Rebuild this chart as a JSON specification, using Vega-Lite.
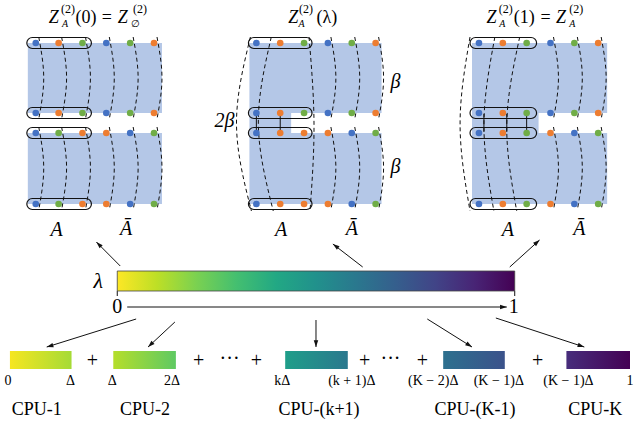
{
  "$schema": "https://vega.github.io/schema/vega-lite/v6.json",
  "width": 634,
  "height": 428,
  "autosize": {"type": "fit", "contains": "padding"},
  "padding": 0,
  "background": "white",
  "config": {"view": {"stroke": null}},
  "datasets": {
    "fills": [
      {"x": 28, "x2": 163, "y": 43, "y2": 113},
      {"x": 28, "x2": 163, "y": 133, "y2": 204},
      {"x": 251, "x2": 384, "y": 43, "y2": 113},
      {"x": 251, "x2": 384, "y": 133, "y2": 204},
      {"x": 251, "x2": 293, "y": 112, "y2": 134},
      {"x": 475, "x2": 611, "y": 43, "y2": 113},
      {"x": 475, "x2": 611, "y": 133, "y2": 204},
      {"x": 475, "x2": 542, "y": 112, "y2": 134}
    ],
    "pills": [
      {"x": 27, "x2": 92, "y": 37.5, "y2": 48.5},
      {"x": 27, "x2": 92, "y": 107.5, "y2": 118.5},
      {"x": 27, "x2": 92, "y": 127.5, "y2": 138.5},
      {"x": 27, "x2": 92, "y": 198.5, "y2": 209.5},
      {"x": 250, "x2": 314, "y": 37.5, "y2": 48.5},
      {"x": 250, "x2": 314, "y": 107.5, "y2": 118.5},
      {"x": 250, "x2": 314, "y": 127.5, "y2": 138.5},
      {"x": 250, "x2": 314, "y": 198.5, "y2": 209.5},
      {"x": 473, "x2": 540, "y": 37.5, "y2": 48.5},
      {"x": 473, "x2": 540, "y": 107.5, "y2": 118.5},
      {"x": 473, "x2": 540, "y": 127.5, "y2": 138.5},
      {"x": 473, "x2": 540, "y": 198.5, "y2": 209.5}
    ],
    "arcs": [
      {"id": "p1c1t", "o": 0, "x": 39, "y": 37}, {"id": "p1c1t", "o": 1, "x": 44, "y": 78}, {"id": "p1c1t", "o": 2, "x": 39, "y": 119},
      {"id": "p1c2t", "o": 0, "x": 62, "y": 37}, {"id": "p1c2t", "o": 1, "x": 67, "y": 78}, {"id": "p1c2t", "o": 2, "x": 62, "y": 119},
      {"id": "p1c3t", "o": 0, "x": 86, "y": 37}, {"id": "p1c3t", "o": 1, "x": 91, "y": 78}, {"id": "p1c3t", "o": 2, "x": 86, "y": 119},
      {"id": "p1c4t", "o": 0, "x": 110, "y": 37}, {"id": "p1c4t", "o": 1, "x": 115, "y": 78}, {"id": "p1c4t", "o": 2, "x": 110, "y": 119},
      {"id": "p1c5t", "o": 0, "x": 134, "y": 37}, {"id": "p1c5t", "o": 1, "x": 139, "y": 78}, {"id": "p1c5t", "o": 2, "x": 134, "y": 119},
      {"id": "p1c6t", "o": 0, "x": 158, "y": 37}, {"id": "p1c6t", "o": 1, "x": 163, "y": 78}, {"id": "p1c6t", "o": 2, "x": 158, "y": 119},
      {"id": "p1c1b", "o": 0, "x": 39, "y": 127}, {"id": "p1c1b", "o": 1, "x": 44, "y": 168}, {"id": "p1c1b", "o": 2, "x": 39, "y": 210},
      {"id": "p1c2b", "o": 0, "x": 62, "y": 127}, {"id": "p1c2b", "o": 1, "x": 67, "y": 168}, {"id": "p1c2b", "o": 2, "x": 62, "y": 210},
      {"id": "p1c3b", "o": 0, "x": 86, "y": 127}, {"id": "p1c3b", "o": 1, "x": 91, "y": 168}, {"id": "p1c3b", "o": 2, "x": 86, "y": 210},
      {"id": "p1c4b", "o": 0, "x": 110, "y": 127}, {"id": "p1c4b", "o": 1, "x": 115, "y": 168}, {"id": "p1c4b", "o": 2, "x": 110, "y": 210},
      {"id": "p1c5b", "o": 0, "x": 134, "y": 127}, {"id": "p1c5b", "o": 1, "x": 139, "y": 168}, {"id": "p1c5b", "o": 2, "x": 134, "y": 210},
      {"id": "p1c6b", "o": 0, "x": 158, "y": 127}, {"id": "p1c6b", "o": 1, "x": 163, "y": 168}, {"id": "p1c6b", "o": 2, "x": 158, "y": 210},
      {"id": "p2a1", "o": 0, "x": 252, "y": 37}, {"id": "p2a1", "o": 1, "x": 238, "y": 124}, {"id": "p2a1", "o": 2, "x": 253, "y": 211},
      {"id": "p2a2", "o": 0, "x": 273, "y": 37}, {"id": "p2a2", "o": 1, "x": 260, "y": 124}, {"id": "p2a2", "o": 2, "x": 275, "y": 211},
      {"id": "p2a3", "o": 0, "x": 311, "y": 37}, {"id": "p2a3", "o": 1, "x": 316, "y": 124}, {"id": "p2a3", "o": 2, "x": 312, "y": 211},
      {"id": "p2c4t", "o": 0, "x": 333, "y": 37}, {"id": "p2c4t", "o": 1, "x": 338, "y": 78}, {"id": "p2c4t", "o": 2, "x": 333, "y": 119},
      {"id": "p2c5t", "o": 0, "x": 357, "y": 37}, {"id": "p2c5t", "o": 1, "x": 362, "y": 78}, {"id": "p2c5t", "o": 2, "x": 357, "y": 119},
      {"id": "p2c6t", "o": 0, "x": 381, "y": 37}, {"id": "p2c6t", "o": 1, "x": 386, "y": 78}, {"id": "p2c6t", "o": 2, "x": 381, "y": 119},
      {"id": "p2c4b", "o": 0, "x": 333, "y": 127}, {"id": "p2c4b", "o": 1, "x": 338, "y": 168}, {"id": "p2c4b", "o": 2, "x": 333, "y": 210},
      {"id": "p2c5b", "o": 0, "x": 357, "y": 127}, {"id": "p2c5b", "o": 1, "x": 362, "y": 168}, {"id": "p2c5b", "o": 2, "x": 357, "y": 210},
      {"id": "p2c6b", "o": 0, "x": 381, "y": 127}, {"id": "p2c6b", "o": 1, "x": 386, "y": 168}, {"id": "p2c6b", "o": 2, "x": 381, "y": 210},
      {"id": "p3a1", "o": 0, "x": 473, "y": 37}, {"id": "p3a1", "o": 1, "x": 463, "y": 124}, {"id": "p3a1", "o": 2, "x": 473, "y": 211},
      {"id": "p3a2", "o": 0, "x": 498, "y": 37}, {"id": "p3a2", "o": 1, "x": 487, "y": 124}, {"id": "p3a2", "o": 2, "x": 497, "y": 211},
      {"id": "p3a3", "o": 0, "x": 523, "y": 37}, {"id": "p3a3", "o": 1, "x": 510, "y": 124}, {"id": "p3a3", "o": 2, "x": 520, "y": 211},
      {"id": "p3c4t", "o": 0, "x": 557, "y": 37}, {"id": "p3c4t", "o": 1, "x": 562, "y": 78}, {"id": "p3c4t", "o": 2, "x": 557, "y": 119},
      {"id": "p3c5t", "o": 0, "x": 581, "y": 37}, {"id": "p3c5t", "o": 1, "x": 586, "y": 78}, {"id": "p3c5t", "o": 2, "x": 581, "y": 119},
      {"id": "p3c6t", "o": 0, "x": 605, "y": 37}, {"id": "p3c6t", "o": 1, "x": 610, "y": 78}, {"id": "p3c6t", "o": 2, "x": 605, "y": 119},
      {"id": "p3c4b", "o": 0, "x": 557, "y": 127}, {"id": "p3c4b", "o": 1, "x": 562, "y": 168}, {"id": "p3c4b", "o": 2, "x": 557, "y": 210},
      {"id": "p3c5b", "o": 0, "x": 581, "y": 127}, {"id": "p3c5b", "o": 1, "x": 586, "y": 168}, {"id": "p3c5b", "o": 2, "x": 581, "y": 210},
      {"id": "p3c6b", "o": 0, "x": 605, "y": 127}, {"id": "p3c6b", "o": 1, "x": 610, "y": 168}, {"id": "p3c6b", "o": 2, "x": 605, "y": 210}
    ],
    "segs": [
      {"x": 258, "y": 114, "x2": 258, "y2": 132},
      {"x": 282, "y": 114, "x2": 282, "y2": 132},
      {"x": 487, "y": 114, "x2": 487, "y2": 132},
      {"x": 510, "y": 114, "x2": 510, "y2": 132},
      {"x": 530, "y": 114, "x2": 530, "y2": 132},
      {"x": 118, "y": 291, "x2": 118, "y2": 296},
      {"x": 518, "y": 291, "x2": 518, "y2": 296},
      {"x": 121, "y": 266, "x2": 97, "y2": 242},
      {"x": 365, "y": 267, "x2": 335, "y2": 244},
      {"x": 513, "y": 267, "x2": 543, "y2": 240},
      {"x": 128, "y": 307, "x2": 510, "y2": 307},
      {"x": 137, "y": 319, "x2": 47, "y2": 347},
      {"x": 176, "y": 322, "x2": 149, "y2": 347},
      {"x": 318, "y": 320, "x2": 318, "y2": 347},
      {"x": 430, "y": 319, "x2": 475, "y2": 347},
      {"x": 499, "y": 318, "x2": 588, "y2": 347}
    ],
    "tips": [
      {"x": 97, "y": 242, "dir": 315},
      {"x": 335, "y": 244, "dir": 307},
      {"x": 543, "y": 240, "dir": 48},
      {"x": 510, "y": 307, "dir": 90},
      {"x": 47, "y": 347, "dir": 253},
      {"x": 149, "y": 347, "dir": 227},
      {"x": 318, "y": 347, "dir": 180},
      {"x": 475, "y": 347, "dir": 122},
      {"x": 588, "y": 347, "dir": 108}
    ],
    "dots": [
      {"x": 36, "y": 43, "c": "b"}, {"x": 59, "y": 43, "c": "o"}, {"x": 83, "y": 43, "c": "g"}, {"x": 107, "y": 43, "c": "b"}, {"x": 131, "y": 43, "c": "g"}, {"x": 155, "y": 43, "c": "o"},
      {"x": 36, "y": 113, "c": "b"}, {"x": 59, "y": 113, "c": "o"}, {"x": 83, "y": 113, "c": "g"}, {"x": 107, "y": 113, "c": "b"}, {"x": 131, "y": 113, "c": "g"}, {"x": 155, "y": 113, "c": "o"},
      {"x": 36, "y": 133, "c": "b"}, {"x": 59, "y": 133, "c": "g"}, {"x": 83, "y": 133, "c": "o"}, {"x": 107, "y": 133, "c": "o"}, {"x": 131, "y": 133, "c": "b"}, {"x": 155, "y": 133, "c": "g"},
      {"x": 36, "y": 204, "c": "b"}, {"x": 59, "y": 204, "c": "g"}, {"x": 83, "y": 204, "c": "o"}, {"x": 107, "y": 204, "c": "o"}, {"x": 131, "y": 204, "c": "b"}, {"x": 155, "y": 204, "c": "g"},
      {"x": 258, "y": 43, "c": "b"}, {"x": 282, "y": 43, "c": "o"}, {"x": 306, "y": 43, "c": "g"}, {"x": 330, "y": 43, "c": "b"}, {"x": 354, "y": 43, "c": "g"}, {"x": 378, "y": 43, "c": "o"},
      {"x": 258, "y": 113, "c": "b"}, {"x": 282, "y": 113, "c": "o"}, {"x": 306, "y": 113, "c": "g"}, {"x": 330, "y": 113, "c": "b"}, {"x": 354, "y": 113, "c": "g"}, {"x": 378, "y": 113, "c": "o"},
      {"x": 258, "y": 133, "c": "b"}, {"x": 282, "y": 133, "c": "o"}, {"x": 306, "y": 133, "c": "o"}, {"x": 330, "y": 133, "c": "o"}, {"x": 354, "y": 133, "c": "b"}, {"x": 378, "y": 133, "c": "g"},
      {"x": 258, "y": 204, "c": "b"}, {"x": 282, "y": 204, "c": "o"}, {"x": 306, "y": 204, "c": "o"}, {"x": 330, "y": 204, "c": "o"}, {"x": 354, "y": 204, "c": "b"}, {"x": 378, "y": 204, "c": "g"},
      {"x": 482, "y": 43, "c": "b"}, {"x": 506, "y": 43, "c": "o"}, {"x": 530, "y": 43, "c": "g"}, {"x": 554, "y": 43, "c": "b"}, {"x": 578, "y": 43, "c": "g"}, {"x": 602, "y": 43, "c": "o"},
      {"x": 482, "y": 113, "c": "b"}, {"x": 506, "y": 113, "c": "o"}, {"x": 530, "y": 113, "c": "g"}, {"x": 554, "y": 113, "c": "b"}, {"x": 578, "y": 113, "c": "g"}, {"x": 602, "y": 113, "c": "o"},
      {"x": 482, "y": 133, "c": "b"}, {"x": 506, "y": 133, "c": "o"}, {"x": 530, "y": 133, "c": "g"}, {"x": 554, "y": 133, "c": "o"}, {"x": 578, "y": 133, "c": "b"}, {"x": 602, "y": 133, "c": "g"},
      {"x": 482, "y": 204, "c": "b"}, {"x": 506, "y": 204, "c": "o"}, {"x": 530, "y": 204, "c": "g"}, {"x": 554, "y": 204, "c": "o"}, {"x": 578, "y": 204, "c": "b"}, {"x": 602, "y": 204, "c": "g"}
    ],
    "rom": [
      {"x": 68.5, "y": 9, "t": "(2)", "k": "sup"},
      {"x": 86.5, "y": 18, "t": "(0)", "k": "main"},
      {"x": 107.5, "y": 18, "t": "=", "k": "main"},
      {"x": 141, "y": 9, "t": "(2)", "k": "sup"},
      {"x": 136, "y": 24, "t": "∅", "k": "sub"},
      {"x": 308, "y": 9, "t": "(2)", "k": "sup"},
      {"x": 329, "y": 18, "t": "(λ)", "k": "main"},
      {"x": 509, "y": 9, "t": "(2)", "k": "sup"},
      {"x": 527.5, "y": 18, "t": "(1)", "k": "main"},
      {"x": 549, "y": 18, "t": "=", "k": "main"},
      {"x": 580, "y": 9, "t": "(2)", "k": "sup"},
      {"x": 118, "y": 307, "t": "0", "k": "big"},
      {"x": 517, "y": 307, "t": "1", "k": "big"},
      {"x": 8, "y": 381, "t": "0", "k": "tick"},
      {"x": 71, "y": 381, "t": "Δ", "k": "tick"},
      {"x": 113, "y": 381, "t": "Δ", "k": "tick"},
      {"x": 173, "y": 381, "t": "2Δ", "k": "tick"},
      {"x": 284, "y": 381, "t": "kΔ", "k": "tick"},
      {"x": 354, "y": 381, "t": "(k + 1)Δ", "k": "tick"},
      {"x": 436, "y": 381, "t": "(K − 2)Δ", "k": "tick"},
      {"x": 502, "y": 381, "t": "(K − 1)Δ", "k": "tick"},
      {"x": 572, "y": 381, "t": "(K − 1)Δ", "k": "tick"},
      {"x": 634, "y": 381, "t": "1", "k": "tick"},
      {"x": 93, "y": 361, "t": "+", "k": "big"},
      {"x": 200, "y": 361, "t": "+", "k": "big"},
      {"x": 231, "y": 359, "t": "···", "k": "big"},
      {"x": 258, "y": 361, "t": "+", "k": "big"},
      {"x": 367, "y": 361, "t": "+", "k": "big"},
      {"x": 393, "y": 359, "t": "···", "k": "big"},
      {"x": 425, "y": 361, "t": "+", "k": "big"},
      {"x": 541, "y": 361, "t": "+", "k": "big"},
      {"x": 37, "y": 410, "t": "CPU-1", "k": "main"},
      {"x": 146, "y": 410, "t": "CPU-2", "k": "main"},
      {"x": 321, "y": 410, "t": "CPU-(k+1)", "k": "main"},
      {"x": 478, "y": 410, "t": "CPU-(K-1)", "k": "main"},
      {"x": 599, "y": 410, "t": "CPU-K", "k": "main"}
    ],
    "ita": [
      {"x": 54, "y": 18, "t": "Z", "k": "main"},
      {"x": 65.5, "y": 24, "t": "A", "k": "sub"},
      {"x": 123.5, "y": 18, "t": "Z", "k": "main"},
      {"x": 295, "y": 18, "t": "Z", "k": "main"},
      {"x": 303.5, "y": 24, "t": "A", "k": "sub"},
      {"x": 494.5, "y": 18, "t": "Z", "k": "main"},
      {"x": 505.5, "y": 24, "t": "A", "k": "sub"},
      {"x": 564.5, "y": 18, "t": "Z", "k": "main"},
      {"x": 576, "y": 24, "t": "A", "k": "sub"},
      {"x": 57, "y": 230, "t": "A", "k": "lab"},
      {"x": 127, "y": 229, "t": "Ā", "k": "lab"},
      {"x": 283, "y": 230, "t": "A", "k": "lab"},
      {"x": 354, "y": 229, "t": "Ā", "k": "lab"},
      {"x": 511, "y": 230, "t": "A", "k": "lab"},
      {"x": 583, "y": 229, "t": "Ā", "k": "lab"},
      {"x": 398, "y": 82, "t": "β", "k": "lab"},
      {"x": 398, "y": 167, "t": "β", "k": "lab"},
      {"x": 226, "y": 121, "t": "2β", "k": "lab"},
      {"x": 99, "y": 281, "t": "λ", "k": "lam"}
    ]
  },
  "encoding": {
    "x": {"field": "x", "type": "quantitative", "scale": {"domain": [0, 634], "nice": false, "zero": false}, "axis": null},
    "y": {"field": "y", "type": "quantitative", "scale": {"domain": [0, 428], "nice": false, "zero": false, "reverse": true}, "axis": null}
  },
  "layer": [
    {
      "data": {"name": "fills"},
      "mark": {"type": "rect", "color": "#B4C7E7"},
      "encoding": {"x2": {"field": "x2"}, "y2": {"field": "y2"}}
    },
    {
      "data": {"name": "pills"},
      "mark": {"type": "rect", "fill": "white", "fillOpacity": 0, "stroke": "#111", "strokeWidth": 1.2, "cornerRadius": 5.5},
      "encoding": {"x2": {"field": "x2"}, "y2": {"field": "y2"}}
    },
    {
      "data": {"name": "arcs"},
      "mark": {"type": "line", "color": "#111", "strokeWidth": 1, "strokeDash": [4, 3], "interpolate": "natural"},
      "encoding": {"detail": {"field": "id"}, "order": {"field": "o"}}
    },
    {
      "data": {"name": "segs"},
      "mark": {"type": "rule", "color": "#111", "strokeWidth": 1},
      "encoding": {"x2": {"field": "x2"}, "y2": {"field": "y2"}}
    },
    {
      "data": {"name": "tips"},
      "mark": {"type": "point", "shape": "M0,0L-1,3L1,3Z", "filled": true, "color": "#111", "opacity": 1, "size": 20},
      "encoding": {"angle": {"field": "dir", "type": "quantitative", "scale": null}}
    },
    {
      "data": {"values": [{"x": 118, "x2": 518, "y": 271, "y2": 291}]},
      "mark": {"type": "rect", "stroke": "#444", "strokeWidth": 0.8, "fill": {"gradient": "linear", "x1": 0, "y1": 0, "x2": 1, "y2": 0, "stops": [
        {"offset": 0, "color": "#fde725"}, {"offset": 0.1, "color": "#bddf26"}, {"offset": 0.2, "color": "#7ad151"}, {"offset": 0.3, "color": "#44bf70"},
        {"offset": 0.4, "color": "#22a884"}, {"offset": 0.5, "color": "#21918c"}, {"offset": 0.6, "color": "#2a788e"}, {"offset": 0.7, "color": "#355f8d"},
        {"offset": 0.8, "color": "#414487"}, {"offset": 0.9, "color": "#482475"}, {"offset": 1, "color": "#440154"}]}},
      "encoding": {"x2": {"field": "x2"}, "y2": {"field": "y2"}}
    },
    {
      "data": {"values": [{"x": 10, "x2": 72, "y": 351, "y2": 369}]},
      "mark": {"type": "rect", "fill": {"gradient": "linear", "x1": 0, "y1": 0, "x2": 1, "y2": 0, "stops": [{"offset": 0, "color": "#f6e620"}, {"offset": 1, "color": "#a5db36"}]}},
      "encoding": {"x2": {"field": "x2"}, "y2": {"field": "y2"}}
    },
    {
      "data": {"values": [{"x": 114, "x2": 177, "y": 351, "y2": 369}]},
      "mark": {"type": "rect", "fill": {"gradient": "linear", "x1": 0, "y1": 0, "x2": 1, "y2": 0, "stops": [{"offset": 0, "color": "#b5de2b"}, {"offset": 1, "color": "#5ec962"}]}},
      "encoding": {"x2": {"field": "x2"}, "y2": {"field": "y2"}}
    },
    {
      "data": {"values": [{"x": 287, "x2": 350, "y": 351, "y2": 369}]},
      "mark": {"type": "rect", "fill": {"gradient": "linear", "x1": 0, "y1": 0, "x2": 1, "y2": 0, "stops": [{"offset": 0, "color": "#1f9e89"}, {"offset": 1, "color": "#2a788e"}]}},
      "encoding": {"x2": {"field": "x2"}, "y2": {"field": "y2"}}
    },
    {
      "data": {"values": [{"x": 446, "x2": 508, "y": 351, "y2": 369}]},
      "mark": {"type": "rect", "fill": {"gradient": "linear", "x1": 0, "y1": 0, "x2": 1, "y2": 0, "stops": [{"offset": 0, "color": "#2d708e"}, {"offset": 1, "color": "#3b528b"}]}},
      "encoding": {"x2": {"field": "x2"}, "y2": {"field": "y2"}}
    },
    {
      "data": {"values": [{"x": 570, "x2": 634, "y": 351, "y2": 369}]},
      "mark": {"type": "rect", "fill": {"gradient": "linear", "x1": 0, "y1": 0, "x2": 1, "y2": 0, "stops": [{"offset": 0, "color": "#472d7b"}, {"offset": 1, "color": "#440154"}]}},
      "encoding": {"x2": {"field": "x2"}, "y2": {"field": "y2"}}
    },
    {
      "data": {"name": "dots"},
      "mark": {"type": "point", "shape": "circle", "filled": true, "opacity": 1, "size": 44},
      "encoding": {
        "color": {"field": "c", "type": "nominal", "scale": {"domain": ["b", "o", "g"], "range": ["#4472C4", "#ED7D31", "#70AD47"]}, "legend": null}
      }
    },
    {
      "data": {"name": "rom"},
      "transform": [{"filter": "datum.k == 'main'"}],
      "mark": {"type": "text", "font": "Times New Roman, Liberation Serif, DejaVu Serif, serif", "fontSize": 18, "color": "#000", "align": "center", "baseline": "middle"},
      "encoding": {"text": {"field": "t"}}
    },
    {
      "data": {"name": "rom"},
      "transform": [{"filter": "datum.k == 'sup'"}],
      "mark": {"type": "text", "font": "Times New Roman, Liberation Serif, DejaVu Serif, serif", "fontSize": 12, "color": "#000", "align": "center", "baseline": "middle"},
      "encoding": {"text": {"field": "t"}}
    },
    {
      "data": {"name": "rom"},
      "transform": [{"filter": "datum.k == 'sub'"}],
      "mark": {"type": "text", "font": "Times New Roman, Liberation Serif, DejaVu Serif, serif", "fontSize": 10, "color": "#000", "align": "center", "baseline": "middle"},
      "encoding": {"text": {"field": "t"}}
    },
    {
      "data": {"name": "rom"},
      "transform": [{"filter": "datum.k == 'big'"}],
      "mark": {"type": "text", "font": "Times New Roman, Liberation Serif, DejaVu Serif, serif", "fontSize": 20, "color": "#000", "align": "center", "baseline": "middle"},
      "encoding": {"text": {"field": "t"}}
    },
    {
      "data": {"name": "rom"},
      "transform": [{"filter": "datum.k == 'tick'"}],
      "mark": {"type": "text", "font": "Times New Roman, Liberation Serif, DejaVu Serif, serif", "fontSize": 14, "color": "#000", "align": "center", "baseline": "middle"},
      "encoding": {"text": {"field": "t"}}
    },
    {
      "data": {"name": "ita"},
      "transform": [{"filter": "datum.k == 'main'"}],
      "mark": {"type": "text", "font": "Times New Roman, Liberation Serif, DejaVu Serif, serif", "fontSize": 18, "fontStyle": "italic", "color": "#000", "align": "center", "baseline": "middle"},
      "encoding": {"text": {"field": "t"}}
    },
    {
      "data": {"name": "ita"},
      "transform": [{"filter": "datum.k == 'sub'"}],
      "mark": {"type": "text", "font": "Times New Roman, Liberation Serif, DejaVu Serif, serif", "fontSize": 10, "fontStyle": "italic", "color": "#000", "align": "center", "baseline": "middle"},
      "encoding": {"text": {"field": "t"}}
    },
    {
      "data": {"name": "ita"},
      "transform": [{"filter": "datum.k == 'lab'"}],
      "mark": {"type": "text", "font": "Times New Roman, Liberation Serif, DejaVu Serif, serif", "fontSize": 20, "fontStyle": "italic", "color": "#000", "align": "center", "baseline": "middle"},
      "encoding": {"text": {"field": "t"}}
    },
    {
      "data": {"name": "ita"},
      "transform": [{"filter": "datum.k == 'lam'"}],
      "mark": {"type": "text", "font": "Times New Roman, Liberation Serif, DejaVu Serif, serif", "fontSize": 22, "fontStyle": "italic", "color": "#000", "align": "center", "baseline": "middle"},
      "encoding": {"text": {"field": "t"}}
    }
  ]
}
